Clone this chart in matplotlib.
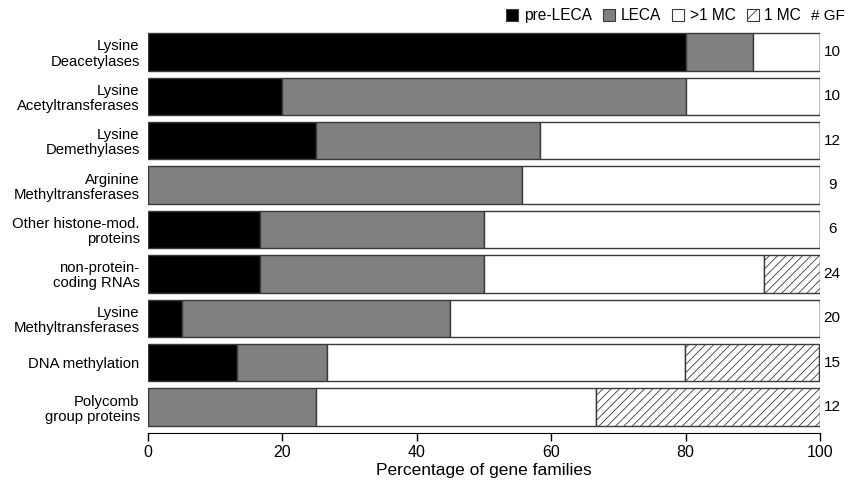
import numpy as np
import matplotlib.pyplot as plt
from matplotlib.patches import Patch

plt.rcParams['font.family'] = ['Liberation Sans', 'DejaVu Sans']
plt.rcParams['hatch.linewidth'] = 0.6

categories = ["Lysine\nDeacetylases", "Lysine\nAcetyltransferases", "Lysine\nDemethylases",
              "Arginine\nMethyltransferases", "Other histone-mod.\nproteins",
              "non-protein-\ncoding RNAs", "Lysine\nMethyltransferases",
              "DNA methylation", "Polycomb\ngroup proteins"]
n_gf = [10, 10, 12, 9, 6, 24, 20, 15, 12]
pre_leca = [80.0, 20.0, 25.0, 0.0, 16.7, 16.7, 5.0, 13.3, 0.0]
leca = [10.0, 60.0, 33.3, 55.6, 33.3, 33.3, 40.0, 13.3, 25.0]
gt1_mc = [10.0, 20.0, 41.7, 44.4, 50.0, 41.7, 55.0, 53.3, 41.7]
one_mc = [0.0, 0.0, 0.0, 0.0, 0.0, 8.3, 0.0, 20.0, 33.3]

series = [("pre-LECA", pre_leca, "black", ""),
          ("LECA", leca, "#808080", ""),
          (">1 MC", gt1_mc, "white", ""),
          ("1 MC", one_mc, "white", "////")]

fig = plt.figure(figsize=(8.48, 4.82), dpi=100)
ax = fig.add_axes([0.1745, 0.1017, 0.7925, 0.8361])

y = np.arange(len(categories))
left = np.zeros(len(categories))
handles = []
for name, vals, col, hatch in series:
    vals = np.array(vals)
    ax.barh(y, vals, left=left, height=0.84, color=col, edgecolor="#3a3a3a",
            linewidth=1.0, hatch=hatch)
    left += vals
    handles.append(Patch(facecolor=col, edgecolor="#3a3a3a", hatch=hatch[:1] * 2,
                         linewidth=0.8, label=name))

for i, n in enumerate(n_gf):
    ax.text(101.8, i, str(n), ha="center", va="center", fontsize=11, clip_on=False)
ax.text(101.2, -0.81, "# GF", ha="center", va="center", fontsize=11, clip_on=False)

ax.set_xlim(0, 100)
ax.set_ylim(8.585, -0.495)
ax.set_yticks(y)
ax.set_yticklabels(categories, fontsize=10.7, linespacing=1.1)
ax.tick_params(axis="y", length=0, pad=6)
ax.set_xticks([0, 20, 40, 60, 80, 100])
ax.tick_params(axis="x", length=6, width=1, labelsize=11.5, pad=3)
for s in ["top", "right", "left"]:
    ax.spines[s].set_visible(False)
ax.spines["bottom"].set_bounds(0, 100)
ax.set_xlabel("Percentage of gene families", fontsize=12.5, labelpad=2)

ax.legend(handles=handles, ncol=4, loc="center right", bbox_to_anchor=(0.972, 1.035),
          frameon=False, fontsize=11.2, handlelength=0.8, handleheight=0.8,
          handletextpad=0.35, columnspacing=0.7, borderaxespad=0, borderpad=0)

fig.savefig("out.png", dpi=100)
